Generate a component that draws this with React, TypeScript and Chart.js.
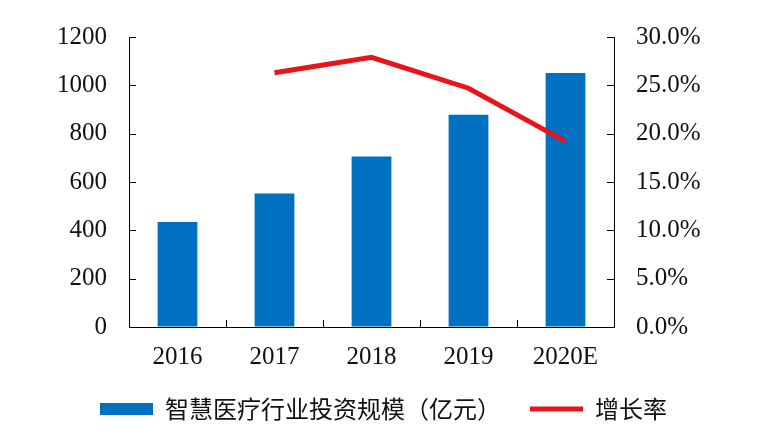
import React, { useEffect, useRef } from 'react';
import { Chart, registerables } from 'chart.js';

Chart.register(...registerables);

const categories = ['2016', '2017', '2018', '2019', '2020E'];
const investment = [434, 552, 706, 878, 1051];
const growthRate = [null, 26.3, 27.9, 24.7, 19.2];
const barLabel = '智慧医疗行业投资规模（亿元）';
const lineLabel = '增长率';

const numFont = '"Liberation Serif", "Times New Roman", serif';
const cjkFont = '"Noto Sans CJK SC", "Liberation Serif", serif';

const inwardTicks = {
  id: 'inwardTicks',
  afterDraw(chart: any) {
    const ctx = chart.ctx;
    const { left, right, bottom } = chart.chartArea;
    const y = chart.scales.y;
    const y1 = chart.scales.y1;
    const x = chart.scales.x;
    ctx.save();
    ctx.strokeStyle = '#000';
    ctx.lineWidth = 1;
    ctx.beginPath();
    y.ticks.forEach((_: any, i: number) => {
      const py = Math.round(y.getPixelForTick(i)) + 0.5;
      ctx.moveTo(left, py);
      ctx.lineTo(left + 7, py);
    });
    y1.ticks.forEach((_: any, i: number) => {
      const py = Math.round(y1.getPixelForTick(i)) + 0.5;
      ctx.moveTo(right, py);
      ctx.lineTo(right - 7, py);
    });
    for (let i = 1; i < x.ticks.length; i++) {
      const px = Math.round((x.getPixelForTick(i) + x.getPixelForTick(i - 1)) / 2) + 0.5;
      ctx.moveTo(px, bottom);
      ctx.lineTo(px, bottom - 7);
    }
    ctx.stroke();
    ctx.restore();
  },
};

export default function App() {
  const ref = useRef<HTMLCanvasElement | null>(null);

  useEffect(() => {
    if (!ref.current) return;
    const chart = new Chart(ref.current, {
      type: 'bar',
      data: {
        labels: categories,
        datasets: [
          {
            type: 'bar',
            label: barLabel,
            data: investment,
            backgroundColor: '#0070C0',
            borderWidth: 0,
            yAxisID: 'y',
            order: 1,
            categoryPercentage: 1,
            barPercentage: 0.41,
            pointStyle: 'rect',
          } as any,
          {
            type: 'line',
            label: lineLabel,
            data: growthRate,
            borderColor: '#E8141C',
            backgroundColor: '#E8141C',
            borderWidth: 5,
            pointRadius: 0,
            pointStyle: 'line',
            tension: 0,
            yAxisID: 'y1',
            order: 0,
          } as any,
        ],
      },
      options: {
        animation: false,
        responsive: false,
        devicePixelRatio: 1,
        layout: { padding: { left: 8, right: 0, top: 34, bottom: 12 } },
        plugins: {
          tooltip: { enabled: false },
          legend: {
            position: 'bottom',
            labels: {
              usePointStyle: true,
              pointStyleWidth: 53,
              boxHeight: 12,
              padding: 29,
              color: '#111',
              font: { size: 24, family: cjkFont },
              sort: (a: any, b: any) => a.datasetIndex - b.datasetIndex,
            },
          },
        },
        scales: {
          x: {
            grid: { display: true, drawOnChartArea: false, drawTicks: false },
            border: { display: true, color: '#000', width: 1 },
            ticks: { color: '#111', font: { size: 25, family: numFont }, padding: 15 },
            afterFit: (s: any) => { s.height = 41; },
          },
          y: {
            position: 'left',
            min: 0,
            max: 1200,
            grid: { display: true, drawOnChartArea: false, drawTicks: false },
            border: { display: true, color: '#000', width: 1 },
            ticks: {
              stepSize: 200,
              color: '#111',
              font: { size: 25, family: numFont },
              padding: 22,
              callback: (v: any) => String(v),
            },
            afterFit: (s: any) => { s.width = 121; },
          },
          y1: {
            position: 'right',
            min: 0,
            max: 30,
            grid: { display: true, drawOnChartArea: false, drawTicks: false },
            border: { display: true, color: '#000', width: 1 },
            ticks: {
              stepSize: 5,
              color: '#111',
              font: { size: 25, family: numFont },
              padding: 22,
              callback: (v: any) => Number(v).toFixed(1) + '%',
            },
            afterFit: (s: any) => { s.width = 145; },
          },
        },
      } as any,
      plugins: [inwardTicks],
    });
    return () => chart.destroy();
  }, []);

  return (
    <div style={{ position: 'fixed', left: 0, top: 0, width: 759, height: 443, background: '#fff' }}>
      <canvas ref={ref} width={759} height={443} />
    </div>
  );
}
